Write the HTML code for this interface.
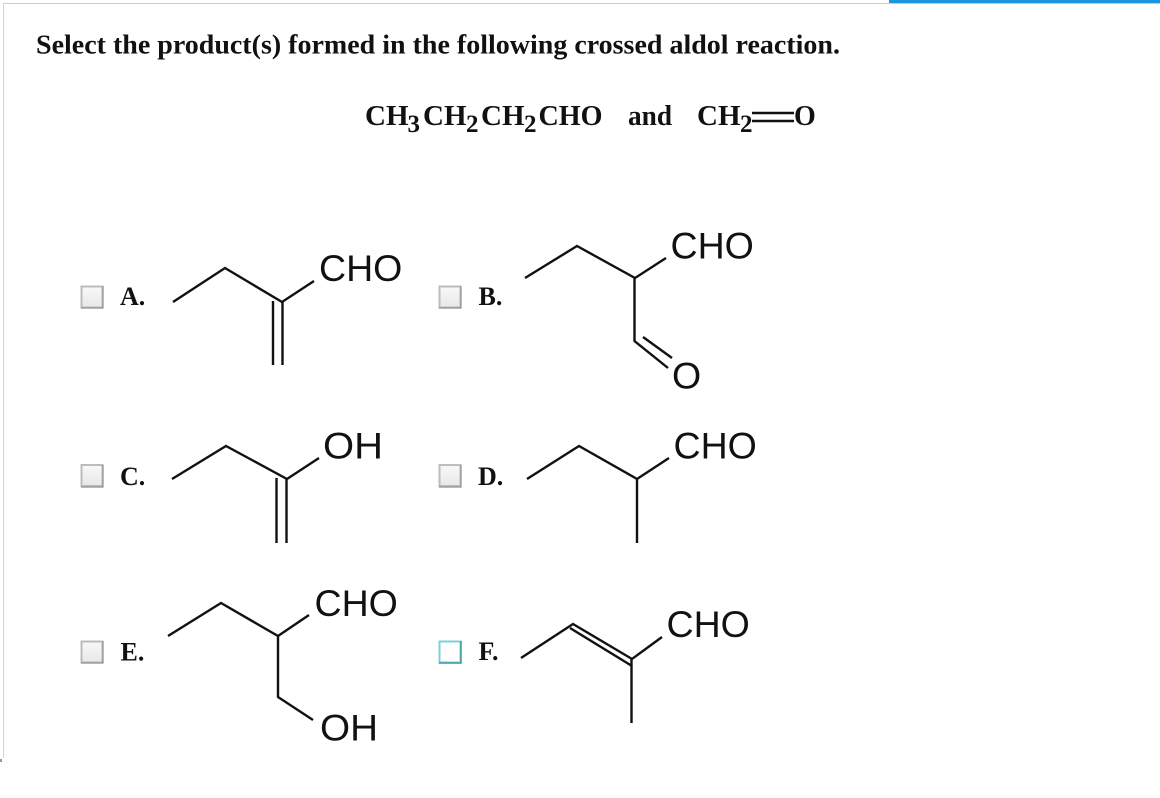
<!DOCTYPE html>
<html>
<head>
<meta charset="utf-8">
<style>
html,body{margin:0;padding:0;background:#fff;}
svg{display:block;}
.t{font-family:"Liberation Serif",serif;font-weight:bold;fill:#111;}
.c{font-family:"Liberation Sans",sans-serif;font-size:37.5px;fill:#111;}
.b{fill:none;stroke:#111;stroke-width:2.4;stroke-linecap:butt;stroke-linejoin:miter;}
</style>
</head>
<body>
<svg width="1160" height="798" viewBox="0 0 1160 798" xmlns="http://www.w3.org/2000/svg">
<defs>
<linearGradient id="g" x1="0" y1="0" x2="0" y2="1"><stop offset="0" stop-color="#f8f8f8"/><stop offset="1" stop-color="#e8e8e8"/></linearGradient>
</defs>
<rect x="3" y="3" width="886" height="1" fill="#ccc"/>
<rect x="3" y="3" width="1" height="755" fill="#d4d4d4"/>
<rect x="889" y="0" width="271" height="3" fill="#1b95e0"/>
<rect x="889" y="3" width="271" height="1" fill="#ccc"/>
<rect x="0" y="759" width="2" height="3" fill="#8a9a9a"/>

<text class="t" x="36" y="53.500" font-size="27" textLength="804" lengthAdjust="spacingAndGlyphs">Select the product(s) formed in the following crossed aldol reaction.</text>

<g class="t" font-size="29">
<text class="t" x="365" y="125">CH</text>
<text class="t" x="407.500" y="132" font-size="25">3</text>
<text class="t" x="423" y="125">CH</text>
<text class="t" x="466" y="132" font-size="25">2</text>
<text class="t" x="481" y="125">CH</text>
<text class="t" x="524" y="132" font-size="25">2</text>
<text class="t" x="538.500" y="125" textLength="64" lengthAdjust="spacingAndGlyphs">CHO</text>
<text class="t" x="628" y="125" textLength="44" lengthAdjust="spacingAndGlyphs">and</text>
<text class="t" x="697" y="125">CH</text>
<text class="t" x="740" y="132" font-size="25">2</text>
<text class="t" x="794" y="125" font-size="28">O</text>
</g>
<path d="M752 113H794M752 121H794" stroke="#111" stroke-width="2.400" fill="none"/>

<g fill="url(#g)" stroke="#bcbcbc" stroke-width="2">
<rect x="81.500" y="286.500" width="21" height="21"/>
<rect x="439.500" y="286.500" width="21" height="21"/>
<rect x="81.500" y="465" width="21" height="21"/>
<rect x="439.500" y="465" width="21" height="21"/>
<rect x="81.500" y="641.500" width="21" height="21"/>
</g>
<g fill="none" stroke="#8f8f8f" stroke-width="1.200">
<path d="M103 286V308H81"/>
<path d="M461 286V308H439"/>
<path d="M103 465V487H81"/>
<path d="M461 465V487H439"/>
<path d="M103 641V663H81"/>
</g>
<rect x="439.500" y="641.500" width="21" height="21" fill="#fff" stroke="#7fd0d4" stroke-width="2"/>
<path d="M461 641V663H439" fill="none" stroke="#3a9a9a" stroke-width="1.500"/>

<g class="t" font-size="26">
<text class="t" x="120" y="305">A.</text>
<text class="t" x="478.500" y="305">B.</text>
<text class="t" x="120" y="485">C.</text>
<text class="t" x="478" y="485">D.</text>
<text class="t" x="120.500" y="660.500">E.</text>
<text class="t" x="478.500" y="660">F.</text>
</g>

<!-- A -->
<path class="b" d="M173 302L225 268L282 302L314 281"/>
<path class="b" d="M273 301V365M282.500 301V365"/>
<text class="c" x="319" y="281">CHO</text>

<!-- B -->
<path class="b" d="M525 278L577 246L635 278L666 258"/>
<path class="b" d="M634.500 278V341L668 368M643 337L672 358"/>
<text class="c" x="670.500" y="258.500">CHO</text>
<text class="c" x="672" y="388.500">O</text>

<!-- C -->
<path class="b" d="M172 479L226 446L287 479L319 458"/>
<path class="b" d="M276.500 478V543M286.500 478V543"/>
<text class="c" x="323" y="458.500" textLength="60" lengthAdjust="spacingAndGlyphs">OH</text>

<!-- D -->
<path class="b" d="M527 479L579 446L637 479L669 458"/>
<path class="b" d="M637 479V543"/>
<text class="c" x="673.500" y="458.500">CHO</text>

<!-- E -->
<path class="b" d="M168 636L221 603L278 636L309 615"/>
<path class="b" d="M278 636V697L313 720"/>
<text class="c" x="314.500" y="616">CHO</text>
<text class="c" x="320" y="740.500" textLength="58" lengthAdjust="spacingAndGlyphs">OH</text>

<!-- F -->
<path class="b" d="M521 658L573 624L632 659L662 637"/>
<path class="b" d="M570 628L632 666"/>
<path class="b" d="M631.500 659V723"/>
<text class="c" x="666.500" y="637">CHO</text>
</svg>
</body>
</html>
